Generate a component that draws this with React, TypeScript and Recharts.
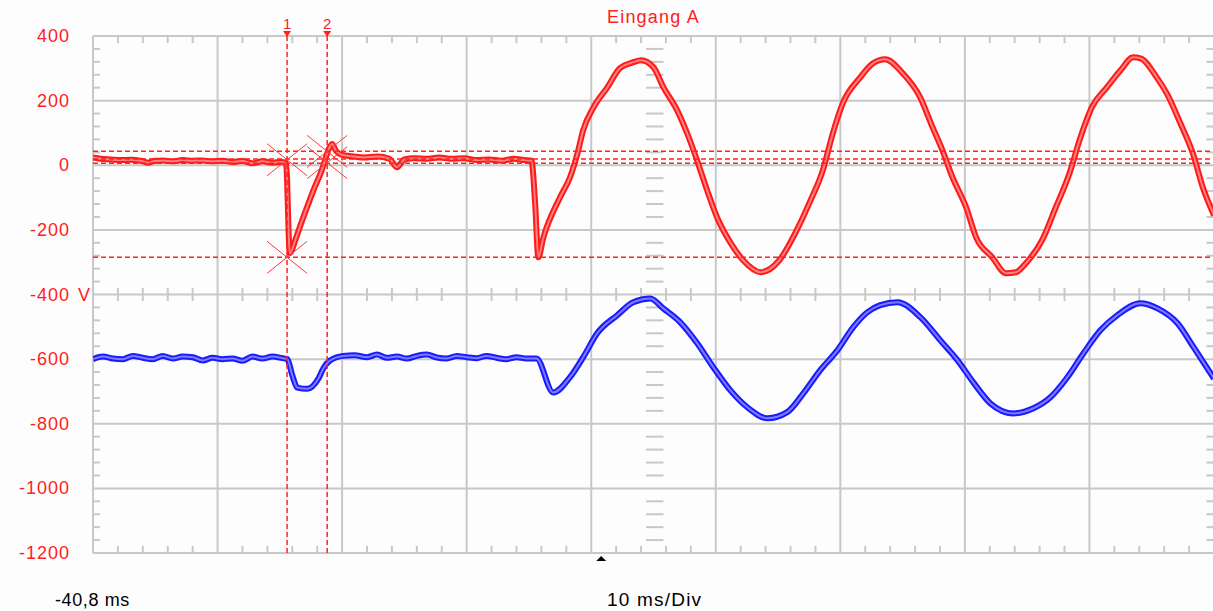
import {
  CartesianGrid,
  Line,
  LineChart,
  ReferenceDot,
  ReferenceLine,
  XAxis,
  YAxis,
} from "recharts";

// Eingang A (rot), ms / V
const redTime = [
  -40.8, -40.2, -39.4, -38.6, -37.8, -37.0, -36.3, -35.9, -35.2, -34.4, -33.6, -32.8, -32.0, -31.2,
  -30.4, -29.6, -28.8, -28.0, -27.2, -26.4, -25.6, -25.3, -25.0, -24.5, -24.0, -23.5, -23.0, -22.5,
  -22.2, -21.9, -21.6, -21.3, -20.8, -20.0, -19.0, -18.0, -17.0, -16.4, -15.8, -15.0, -14.0, -13.0,
  -12.0, -11.0, -10.0, -9.0, -8.0, -7.0, -6.2, -5.6, -5.3, -5.05, -4.65, -3.3, -2.5, -1.9, -1.45,
  -0.6, 0.5, 1.5, 2.6, 3.2, 4.2, 5.0, 6.1, 6.9, 7.7, 8.5, 9.3, 10.4, 11.4, 12.8, 14.3, 15.7, 16.7,
  17.8, 18.6, 19.4, 20.8, 21.8, 22.8, 24.2, 25.6, 26.6, 27.4, 28.2, 29.3, 30.1, 31.4, 32.5, 33.3,
  34.1, 35.4, 36.5, 37.6, 38.4, 39.4, 40.6, 41.7, 42.7, 43.3, 44.6, 45.4, 46.5, 47.5, 48.3, 49.2,
];
const redVolt = [
  24, 20, 18, 16, 17, 14, 8, 13, 15, 12, 16, 14, 15, 12,
  14, 10, 13, 6, 12, 8, 10, 6, -272, -225, -170, -118, -68, -22,
  12, 48, 66, 45, 32, 28, 24, 27, 20, -6, 18, 22, 20, 24,
  20, 22, 16, 18, 14, 20, 16, 14, -120, -285, -225, -99, -37, 37, 108,
  180, 241, 300, 319, 325, 303, 241, 170, 99, 15, -77, -161, -241, -294, -331, -294, -201, -118,
  -15, 99, 192, 272, 315, 328, 285, 211, 118, 46, -37, -130, -223, -285, -334, -331,
  -303, -232, -130, -25, 77, 180, 241, 294, 334, 331, 272, 223, 130, 37, -68, -155,
];

// zweite Spur (blau)
const blueTime = [
  -40.8, -40.0, -39.2, -38.4, -37.6, -36.8, -36.0, -35.2, -34.4, -33.6, -32.8, -32.0, -31.2, -30.4,
  -29.6, -28.8, -28.0, -27.2, -26.4, -25.6, -25.2, -24.8, -24.4, -23.6, -22.7, -22.3, -21.8, -20.7,
  -19.8, -18.8, -18.0, -17.2, -16.4, -15.6, -14.8, -14.0, -13.2, -12.4, -11.6, -10.8, -10.0, -9.2,
  -8.4, -7.6, -6.8, -6.0, -5.2, -3.85, -2.5, -1.44, -0.32, 1.29, 2.57, 3.94, 4.98, 6.35, 7.71, 9.0,
  10.36, 11.73, 13.34, 14.94, 16.23, 17.59, 18.96, 20.24, 21.37, 22.41, 23.78, 25.62, 27.23, 28.6,
  29.88, 31.25, 33.1, 34.7, 36.07, 37.43, 38.72, 40.08, 41.45, 43.3, 44.66, 46.27, 47.56, 49.2,
];
const blueVolt = [
  -600, -592, -598, -600, -590, -596, -600, -590, -598, -592, -594, -604, -596, -600,
  -598, -605, -592, -598, -592, -597, -600, -650, -688, -692, -660, -628, -605, -590,
  -588, -594, -586, -596, -592, -598, -590, -586, -595, -598, -590, -594, -597, -590,
  -596, -600, -594, -598, -598, -703, -656, -594, -520, -464, -424, -412, -443, -486, -551, -625,
  -696, -749, -783, -764, -706, -634, -573, -501, -455, -433, -424, -470, -542, -603,
  -672, -737, -768, -752, -718, -656, -582, -511, -464, -427, -443, -489, -563, -660,
];

const voltTicks = [400, 200, 0, -200, -400, -600, -800, -1000, -1200];
const divTicks = [-40.8, -30.8, -20.8, -10.8, -0.8, 9.2, 19.2, 29.2, 39.2];
const cursorTimes = [-25.22, -22.0];
const cursorNames = ["1", "2"];
const cursorLevels = [43, 19, 6, -285];
const markTimes = [-25.22, -25.22, -22.0, -22.0];
const markVolts = [17, -285, 43, 8];

const red = redTime.map((t, i) => ({ t, v: redVolt[i] }));
const blue = blueTime.map((t, i) => ({ t, v: blueVolt[i] }));

const RED = "#ff2020";
const GRID = "#c8c8c8";

// Teilstriche: 5 pro Division
const minorT: number[] = [];
for (let k = 1; k < 45; k++) if (k % 5 !== 0) minorT.push(-40.8 + k * 2);
const minorV: number[] = [];
for (let v = 360; v > -1200; v -= 40) if (v % 200 !== 0) minorV.push(v);

const tickRows = [
  { a: 400, b: 378 },
  { a: -380, b: -420 },
  { a: -1200, b: -1178 },
];
const tickCols = [
  { a: -40.8, b: -40.24 },
  { a: 3.6, b: 5.0 },
  { a: 48.6, b: 49.2 },
];

type TickProps = { x?: number; y?: number; payload?: { value?: number } };

function VoltTick({ x = 0, y = 0, payload }: TickProps) {
  const v = payload?.value ?? 0;
  return (
    <g>
      <text x={x} y={y} dy={6} textAnchor="end" fill={RED} fontSize={18} letterSpacing={1}>
        {v}
      </text>
      {v === -400 && (
        <text x={x + 8} y={y} dy={6} fill={RED} fontSize={18}>
          V
        </text>
      )}
    </g>
  );
}

function CursorTag({ viewBox, name }: { viewBox?: { x: number; y: number }; name: string }) {
  if (!viewBox) return null;
  const { x, y } = viewBox;
  return (
    <g>
      <polygon points={`${x - 4},${y - 5} ${x + 4},${y - 5} ${x},${y + 1}`} fill={RED} />
      <text x={x} y={y - 7} textAnchor="middle" fill={RED} fontSize={15}>
        {name}
      </text>
    </g>
  );
}

function CrossMark({ cx = 0, cy = 0 }: { cx?: number; cy?: number }) {
  return (
    <g stroke="#ff3a3a" strokeWidth={1}>
      <line x1={cx - 20} y1={cy - 16} x2={cx + 20} y2={cy + 16} />
      <line x1={cx - 20} y1={cy + 16} x2={cx + 20} y2={cy - 16} />
    </g>
  );
}

function Trigger({ cx = 0, cy = 0 }: { cx?: number; cy?: number }) {
  return <polygon points={`${cx - 5},${cy + 8} ${cx + 5},${cy + 8} ${cx},${cy + 3}`} fill="#000" />;
}

export default function App() {
  return (
    <div
      style={{
        position: "absolute",
        left: 0,
        top: 0,
        width: 1213,
        height: 611,
        overflow: "hidden",
        background: "#fdfdfd",
        fontFamily: "'Liberation Sans', Arial, sans-serif",
      }}
    >
      <LineChart width={1214} height={611} margin={{ top: 36, right: 0, bottom: 0, left: 0 }}>
        <CartesianGrid stroke={GRID} strokeWidth={2} vertical={false} />
        <XAxis
          dataKey="t"
          type="number"
          domain={[-40.8, 49.2]}
          ticks={divTicks}
          height={58}
          axisLine={false}
          tickLine={false}
          tick={false}
          allowDataOverflow
        />
        <YAxis
          type="number"
          domain={[-1200, 400]}
          ticks={voltTicks}
          width={93}
          axisLine={false}
          tickLine={false}
          tickSize={0}
          tickMargin={23}
          tick={<VoltTick />}
          allowDataOverflow
        />
        {divTicks.map((t) => (
          <ReferenceLine key={`g${t}`} x={t} stroke={GRID} strokeWidth={2} />
        ))}
        {tickRows.flatMap((r, i) =>
          minorT.map((t) => (
            <ReferenceLine
              key={`r${i}-${t}`}
              segment={[
                { x: t, y: r.a },
                { x: t, y: r.b },
              ]}
              stroke={GRID}
              strokeWidth={2}
            />
          ))
        )}
        {tickCols.flatMap((c, i) =>
          minorV.map((v) => (
            <ReferenceLine
              key={`c${i}-${v}`}
              segment={[
                { x: c.a, y: v },
                { x: c.b, y: v },
              ]}
              stroke={GRID}
              strokeWidth={2}
            />
          ))
        )}
        <Line data={blue} dataKey="v" type="monotone" stroke="#1a1aff" strokeWidth={6} dot={false} isAnimationActive={false} />
        <Line data={blue} dataKey="v" type="monotone" stroke="#7c7cff" strokeWidth={2} dot={false} isAnimationActive={false} />
        <Line data={red} dataKey="v" type="monotone" stroke="#ff1a1a" strokeWidth={6} dot={false} isAnimationActive={false} />
        <Line data={red} dataKey="v" type="monotone" stroke="#ff8080" strokeWidth={2} dot={false} isAnimationActive={false} />
        {cursorLevels.map((v) => (
          <ReferenceLine key={`h${v}`} y={v} stroke={RED} strokeWidth={1.5} strokeDasharray="5 3" />
        ))}
        {cursorTimes.map((t, i) => (
          <ReferenceLine
            key={`v${t}`}
            x={t}
            stroke={RED}
            strokeWidth={1.5}
            strokeDasharray="5 3"
            label={<CursorTag name={cursorNames[i]} />}
          />
        ))}
        {markTimes.map((t, i) => (
          <ReferenceDot key={`m${i}`} x={t} y={markVolts[i]} r={1} shape={<CrossMark />} />
        ))}
        <ReferenceDot x={0} y={-1200} r={1} shape={<Trigger />} />
      </LineChart>
      <svg
        width={1213}
        height={611}
        style={{ position: "absolute", left: 0, top: 0, pointerEvents: "none" }}
      >
        <text x={607} y={23} fill={RED} fontSize={18} letterSpacing={1.2}>
          Eingang A
        </text>
        <text x={55} y={606} fill="#000" fontSize={18} letterSpacing={0.6}>
          -40,8 ms
        </text>
        <text x={607} y={606} fill="#000" fontSize={19} letterSpacing={1.2}>
          10 ms/Div
        </text>
      </svg>
    </div>
  );
}
